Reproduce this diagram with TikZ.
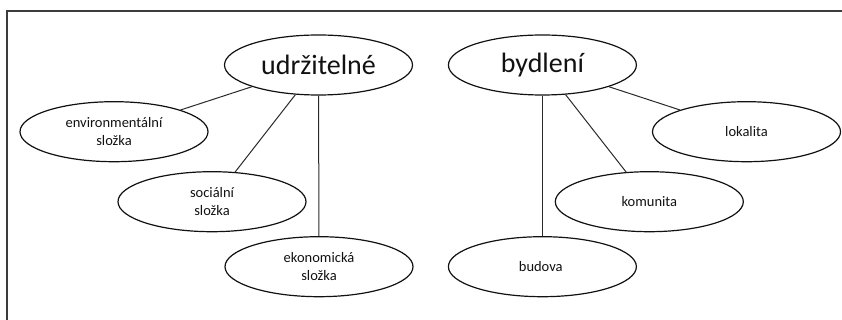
\documentclass[tikz,border=0pt]{standalone}
\usepackage{fontspec}
\setmainfont{Carlito}
\usepackage{xcolor}
\usepackage{tikz}
\usetikzlibrary{shapes.geometric}
\definecolor{bg}{HTML}{FFFFFF}
\definecolor{ink}{HTML}{111111}
\definecolor{edge}{HTML}{2A2A2A}
\definecolor{rim}{HTML}{3C3C3C}
\tikzset{
  frame/.style={draw=rim, line width=2pt},
  oval/.style={ellipse, draw=ink, line width=1.2pt, minimum width=188pt, minimum height=60pt, inner sep=0pt, text=ink},
  big/.style={oval, font=\fontsize{28}{32}\selectfont},
  leaf/.style={oval, align=center, font=\fontsize{14.5}{18.5}\selectfont},
  link/.style={draw=edge, line width=1pt},
}

\begin{document}
\begin{tikzpicture}[x=1pt,y=-1pt]
  \useasboundingbox (0,0) rectangle (842,320);
  \draw[frame] (6.7,320) -- (6.7,10.7) -- (842,10.7);

  % two headwords
  \node[big] (udr) at (318.5,65) {udržitelné};
  \node[big] (byd) at (542.4,65) {bydlení};

  % leaves (from the diagram)
  \foreach \name/\x/\y/\txt in {
    env/114/131.7/{environmentální\\složka},
    soc/212/201.7/{sociální\\složka},
    eko/319/266.7/{ekonomická\\složka},
    lok/746.5/131.7/{lokalita},
    kom/649.3/201.7/{komunita},
    bud/542.4/266.7/{budova}
  }{
    \node[leaf] (\name) at (\x,\y) {\txt};
  }

  \foreach \a/\b in {udr/env,udr/soc,udr/eko,byd/lok,byd/kom,byd/bud}{
    \draw[link] (\a) -- (\b);
  }
\end{tikzpicture}
\end{document}
